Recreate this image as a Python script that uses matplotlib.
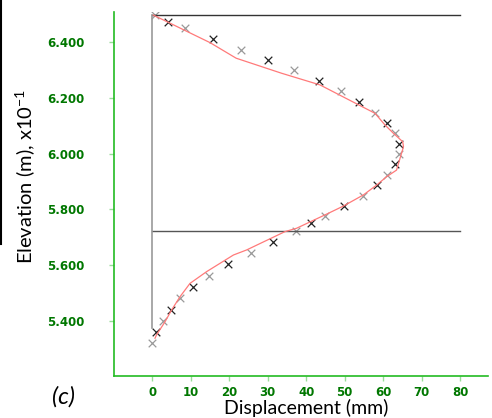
import matplotlib
matplotlib.use('Agg')
import matplotlib.pyplot as plt
from matplotlib.lines import Line2D

plt.rcParams['mathtext.default'] = 'regular'

# measured points (x markers), alternating shades as in the original
meas_x = [0.7, 4.2, 8.5, 15.7, 23.1, 30.2, 36.9, 43.4, 49.0, 53.8, 58.0, 61.1, 63.2, 64.1,
          64.1, 63.0, 61.1, 58.5, 54.7, 49.9, 44.9, 41.3, 37.4, 31.3, 25.6, 19.8, 14.8,
          10.6, 7.2, 4.9, 2.9, 1.0, -0.15]
meas_y = [6.500, 6.474, 6.450, 6.412, 6.373, 6.336, 6.299, 6.261, 6.224, 6.187, 6.147,
          6.111, 6.074, 6.036, 6.000, 5.962, 5.925, 5.886, 5.847, 5.811, 5.775, 5.751,
          5.723, 5.684, 5.644, 5.603, 5.562, 5.522, 5.481, 5.439, 5.400, 5.359, 5.321]

# computed curve (red)
calc_x = [0.26, 15.0, 21.8, 33.6, 43.6, 57.9, 60.5, 62.7, 65.1, 65.3, 64.4, 63.5, 60.9,
          58.3, 54.9, 49.7, 45.8, 37.5, 34.5, 24.5, 21.1, 14.1, 9.8, 7.2, 5.0, 3.3, 1.1, 0.7]
calc_y = [6.498, 6.399, 6.343, 6.289, 6.247, 6.145, 6.103, 6.073, 6.043, 6.025, 5.983,
          5.941, 5.917, 5.887, 5.852, 5.812, 5.786, 5.732, 5.720, 5.654, 5.636, 5.576,
          5.534, 5.486, 5.438, 5.396, 5.349, 5.337]

# reference lines
top_level = 6.50
mid_level = 5.721
wall_bottom = 5.374

xticks = [0, 10, 20, 30, 40, 50, 60, 70, 80]
yticks = [5.4, 5.6, 5.8, 6.0, 6.2, 6.4]

fig = plt.figure(figsize=(4.92, 4.18), dpi=100)
ax = fig.add_axes([0.2323, 0.1005, 0.759, 0.8708])

ax.plot([0, 80], [top_level, top_level], color='#333333', lw=1.0)
ax.plot([0, 80], [mid_level, mid_level], color='#555555', lw=1.0)
ax.plot([0, 0], [wall_bottom, top_level], color='#999999', lw=1.2)

ax.plot(calc_x, calc_y, color='#ff7a7a', lw=0.9)
ax.scatter(meas_x[0::2], meas_y[0::2], marker='x', s=30, color='#999999', linewidths=0.9)
ax.scatter(meas_x[1::2], meas_y[1::2], marker='x', s=30, color='#222222', linewidths=0.9)

ax.set_xlim(-9.88, 87.2)
ax.set_ylim(5.2013, 6.509)

for s in ['top', 'right']:
    ax.spines[s].set_visible(False)
for s in ['left', 'bottom']:
    ax.spines[s].set_color('#22bb22')
    ax.spines[s].set_linewidth(1.2)

ax.set_xticks(xticks, [str(t) for t in xticks])
ax.set_yticks(yticks, [f'{t:.3f}' for t in yticks])
ax.tick_params(axis='both', direction='out', length=3.5, width=1, color='#99dd99',
               labelcolor='#007700', labelsize=8.5)
ax.tick_params(axis='y', pad=18)
ax.tick_params(axis='x', pad=4)
for lab in ax.get_xticklabels() + ax.get_yticklabels():
    lab.set_fontweight('bold')

fig.text(0.051, 0.577, 'Elevation (m), x10$^{-1}$', rotation=90, ha='center', va='center',
         fontsize=14.5, family='Lato')
fig.text(0.623, 0.003, 'Displacement (mm)', ha='center', va='bottom', fontsize=14,
         family='Lato')
fig.text(0.13, 0.05, '(c)', ha='center', va='center', fontsize=17, style='italic',
         family='Lato')

fig.add_artist(Line2D([0.002, 0.002], [1.0, 0.416], transform=fig.transFigure,
                      color='black', lw=1.5))

plt.savefig('out.png', dpi=100)
